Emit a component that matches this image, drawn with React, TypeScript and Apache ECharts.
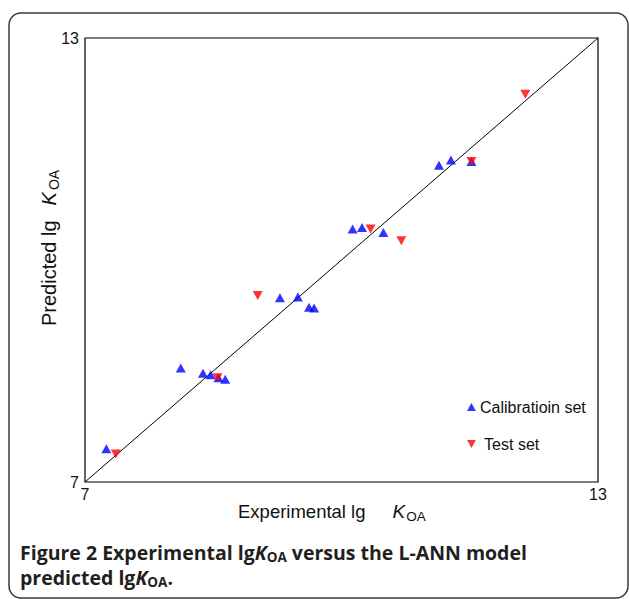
import React, { useEffect, useRef } from "react";
import * as echarts from "echarts";

const calibX = [7.25, 8.12, 8.38, 8.47, 8.56, 8.64, 9.28, 9.49, 9.62, 9.68, 10.13, 10.24, 10.49, 11.14, 11.28, 11.52];
const calibY = [7.45, 8.54, 8.47, 8.45, 8.41, 8.39, 9.49, 9.50, 9.36, 9.35, 10.42, 10.44, 10.37, 11.28, 11.35, 11.33];
const testX = [7.36, 8.55, 9.02, 10.34, 10.70, 11.52, 12.15];
const testY = [7.38, 8.41, 9.52, 10.42, 10.26, 11.33, 12.24];
const axisMin = 7;
const axisMax = 13;

const downTri = "path://M0,0 L10,0 L5,9 Z";
const upTri = "path://M5,0 L10,9 L0,9 Z";

export default function App() {
  const ref = useRef<HTMLDivElement>(null);
  useEffect(() => {
    if (!ref.current) return;
    const chart = echarts.init(ref.current, null, { renderer: "svg" });
    const font = "Liberation Sans, Arial, sans-serif";
    const cap = "Open Sans, sans-serif";
    const xRich = {
      n: { fontFamily: font, fontSize: 18.5, fill: "#111", lineHeight: 24, verticalAlign: "middle" },
      k: { fontFamily: font, fontSize: 19, fontStyle: "italic", fill: "#111", padding: [0, 0, 0, 27], lineHeight: 24, verticalAlign: "middle" },
      s: { fontFamily: font, fontSize: 13.5, fill: "#111", padding: [0, 0, 0, 1], lineHeight: 13, verticalAlign: "bottom" },
    };
    const yRich = {
      n: { fontFamily: font, fontSize: 20, fill: "#111", lineHeight: 24, verticalAlign: "middle" },
      k: { fontFamily: font, fontSize: 20, fontStyle: "italic", fill: "#111", padding: [0, 0, 0, 15], lineHeight: 24, verticalAlign: "middle" },
      s: { fontFamily: font, fontSize: 14, fill: "#111", padding: [0, 0, 0, 2], lineHeight: 13, verticalAlign: "bottom" },
    };
    const capRich = {
      b: { fontFamily: cap, fontSize: 19.5, fontWeight: "bold", fill: "#231f20", lineHeight: 20, verticalAlign: "middle" },
      k: { fontFamily: cap, fontSize: 19.5, fontWeight: "bold", fontStyle: "italic", fill: "#231f20", lineHeight: 20, verticalAlign: "middle" },
      s: { fontFamily: cap, fontSize: 13.5, fontWeight: "bold", fill: "#231f20", lineHeight: 10, padding: [9, 0, 0, 0], verticalAlign: "middle" },
    };
    chart.setOption({
      animation: false,
      backgroundColor: "#ffffff",
      grid: { left: 85, top: 38, width: 513, height: 444, show: true, borderColor: "#000", borderWidth: 1.2, backgroundColor: "transparent" },
      xAxis: {
        type: "value", min: axisMin, max: axisMax, interval: 6,
        axisLine: { show: false }, axisTick: { show: false }, splitLine: { show: false },
        axisLabel: { color: "#111", fontFamily: font, fontSize: 16, margin: 4 },
      },
      yAxis: {
        type: "value", min: axisMin, max: axisMax, interval: 6,
        axisLine: { show: false }, axisTick: { show: false }, splitLine: { show: false },
        axisLabel: { color: "#111", fontFamily: font, fontSize: 16, margin: 6 },
      },
      legend: {
        data: [
          { name: "Calibratioin set", icon: upTri },
          { name: " Test set", icon: downTri },
        ],
        orient: "vertical", left: 462, top: 394, itemWidth: 9, itemHeight: 8, itemGap: 21,
        textStyle: { fontFamily: font, fontSize: 16, color: "#111", padding: [0, 0, 0, -1] },
        selectedMode: false,
      },
      series: [
        {
          type: "line", data: [[axisMin, axisMin], [axisMax, axisMax]], showSymbol: false, silent: true,
          lineStyle: { color: "#000", width: 1 }, z: 1,
        },
        {
          name: "Calibratioin set", type: "scatter", symbol: upTri, symbolSize: [10, 9],
          itemStyle: { color: "#0000ff" },
          data: calibX.map((x, i) => [x, calibY[i]]), z: 2,
        },
        {
          name: " Test set", type: "scatter", symbol: downTri, symbolSize: [10, 9],
          itemStyle: { color: "#ff0000" },
          data: testX.map((x, i) => [x, testY[i]]), z: 3,
        },
      ],
      graphic: [
        {
          type: "rect", shape: { x: 9, y: 13, width: 619, height: 585, r: 12 },
          style: { fill: "none", stroke: "#3a3a3a", lineWidth: 1.5 }, silent: true,
        },
        {
          type: "text", x: 238, y: 511,
          style: { text: "{n|Experimental lg}{k|K}{s|OA}", rich: xRich, align: "left", verticalAlign: "middle" },
        },
        {
          type: "text", x: 49, y: 326, rotation: Math.PI / 2,
          style: { text: "{n|Predicted lg}{k|K}{s|OA}", rich: yRich, align: "left", verticalAlign: "middle" },
        },
        {
          type: "text", x: 20, y: 552,
          style: {
            text: "{b|Figure 2 Experimental lg}{k|K}{s|OA}{b| versus the L-ANN model}",
            rich: capRich, verticalAlign: "middle",
          },
        },
        {
          type: "text", x: 20, y: 577,
          style: { text: "{b|predicted lg}{k|K}{s|OA}{b|.}", rich: capRich, verticalAlign: "middle" },
        },
      ],
    });
    return () => chart.dispose();
  }, []);
  return <div ref={ref} style={{ position: "absolute", left: 0, top: 0, width: 629, height: 599 }} />;
}
